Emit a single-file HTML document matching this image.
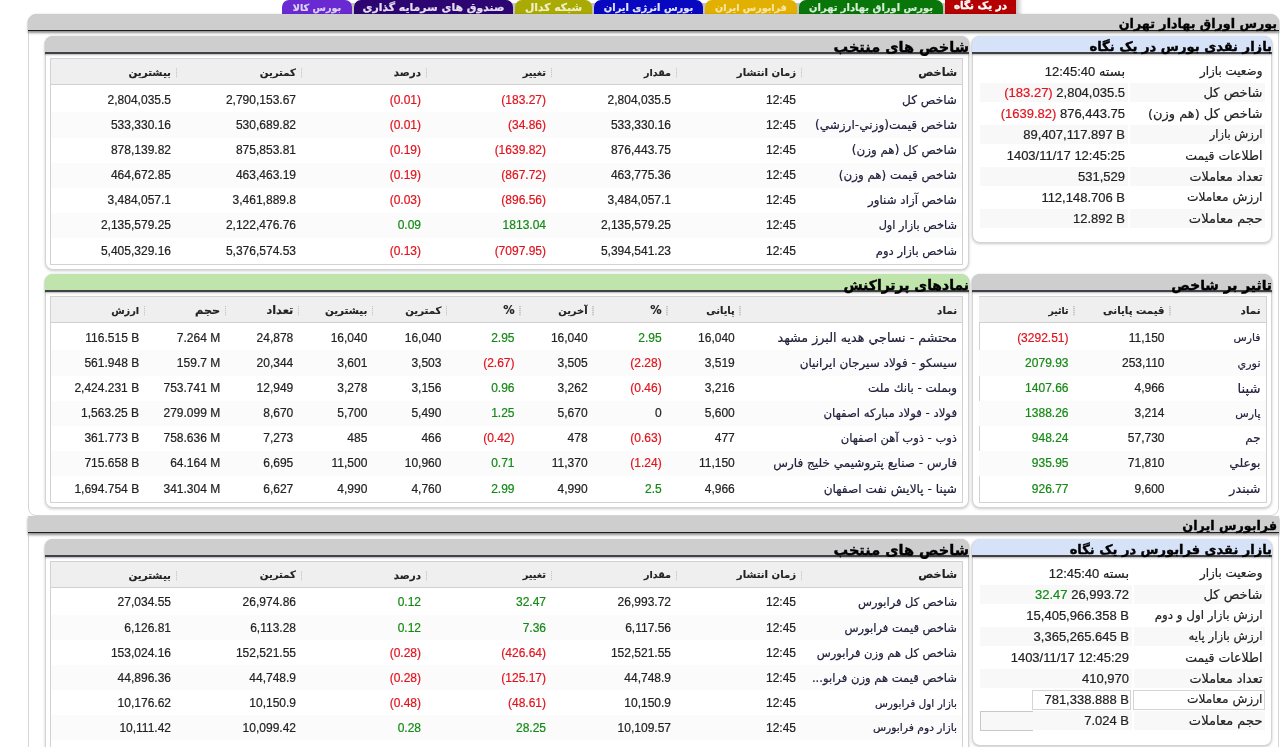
<!DOCTYPE html>
<html lang="fa" dir="rtl"><head><meta charset="utf-8"><title>در یک نگاه</title>
<style>
*{box-sizing:border-box;margin:0;padding:0}
html,body{width:1280px;height:747px;overflow:hidden;background:#fff}
body{position:relative;font-family:'Liberation Sans', 'DejaVu Sans', sans-serif;color:#222;direction:rtl}
.tab{position:absolute;top:0;height:14px;border-radius:7px 7px 0 0;color:#e4e4e4;font:bold 10.3px 'DejaVu Sans', sans-serif;-webkit-text-stroke:.2px currentColor;text-align:center;line-height:16px;white-space:nowrap;overflow:hidden}
.outer{position:absolute;left:28px;width:1251px;border:1px solid #d6d6d6;border-radius:8px;background:#fff}
.ohead{position:absolute;left:-1px;right:-1px;top:-1px;height:17px;background:#cecece;border-radius:9px 9px 0 0;border-bottom:1px solid #1c1c1c;box-shadow:0 1.5px 2.5px rgba(0,0,0,.45);font:bold 12.7px 'DejaVu Sans', sans-serif;-webkit-text-stroke:.35px #000;color:#000;text-align:right;padding-right:2px;line-height:19px;white-space:nowrap}
.panel{position:absolute;border:1px solid #d4d4d4;border-radius:8px;background:#fff;box-shadow:0 1px 3px rgba(0,0,0,.22)}
.phead{position:absolute;left:-1px;right:-1px;top:-1px;height:18px;background:#cecece;border-radius:8px 8px 0 0;border-bottom:2px solid #404046;box-shadow:0 1px 2px rgba(0,0,0,.3);font:bold 13.5px 'DejaVu Sans', sans-serif;-webkit-text-stroke:.4px #000;color:#000;text-align:right;padding-right:0;line-height:22px;white-space:nowrap;z-index:1}
.phead.g{background:#bfe5ac}
.phead.b{background:#d6e2f7}
.grid{position:absolute;border:1px solid #d2d2d2;background:#fff}
.grid table{border-collapse:collapse;table-layout:fixed;width:100%}
.grid table.bd{margin-top:2.3px}
.grid th{height:25.6px;background:#efefef;border-bottom:1px solid #d0d0d0;font:bold 10.3px 'DejaVu Sans', sans-serif;color:#222;-webkit-text-stroke:.15px #222;padding-top:1px;text-align:right;padding-right:5px;position:relative;white-space:nowrap}
.grid th .sep{position:absolute;right:-1px;top:9px;width:1.5px;height:10px;background:repeating-linear-gradient(#c8c8c8 0 1px,#e4e4e4 1px 2px)}
.grid td{height:25.1px;font:12px 'Liberation Sans', 'DejaVu Sans', sans-serif;color:#222;-webkit-text-stroke:.2px currentColor;text-align:right;padding-right:5px;white-space:nowrap;overflow:hidden}
.grid td.n{font:12px 'DejaVu Sans', sans-serif;color:#20203c}
.grid tr.alt td{background:#fbfbfb}
.r,.grid td.r{color:#e0141e} .gr,.grid td.gr{color:#148a14}
.grid td{direction:ltr} .grid td.n{direction:rtl}
.kv td{direction:ltr} .kv td.k{direction:rtl}
.kv{position:absolute;border-collapse:separate;border-spacing:2px;table-layout:fixed}
.kv td{height:19px;padding:0;font:13px 'Liberation Sans', 'DejaVu Sans', sans-serif;color:#222;-webkit-text-stroke:.2px currentColor;text-align:right;white-space:nowrap;padding-right:3px}
.kv td.k{font:13px 'DejaVu Sans', sans-serif;padding-right:2.5px}
.kv tr.alt td{background:#f8f8f8}
.gl{position:absolute;border:1px solid #cfcfcf}
</style></head><body>
<div style="position:absolute;left:284px;top:3px;width:730px;height:11px;background:#c2c2c2"></div><div style="position:absolute;left:1016px;top:0;width:7px;height:14px;background:linear-gradient(to right,#c4c4c4,#fff)"></div><div class="tab" style="left:282px;width:70px;background:#6a2ad2;color:#ddd4f4;font-size:9.7px">بورس کالا</div><div class="tab" style="left:354px;width:159px;background:#2d0573;color:#e4e0f0;font-size:10.85px">صندوق های سرمایه گذاری</div><div class="tab" style="left:515px;width:77px;background:#aaaa04;color:#f0f0c8;font-size:10.76px">شبکه کدال</div><div class="tab" style="left:594px;width:109px;background:#0808c0;color:#e4e4ff;font-size:9.91px">بورس انرژی ایران</div><div class="tab" style="left:705px;width:92px;background:#e2b000;color:#f6e6a8;font-size:9.65px">فرابورس ایران</div><div class="tab" style="left:799px;width:144px;background:#087608;color:#d8ecd8;font-size:9.94px">بورس اوراق بهادار تهران</div><div class="tab" style="left:945px;width:71px;background:#b40000;color:#fff;border-radius:0;line-height:10px;font-size:10.4px;-webkit-text-stroke:.35px #fff">در یک نگاه</div><div class="outer" style="top:14px;height:502px"><div class="ohead">بورس اوراق بهادار تهران</div></div><div class="panel" style="left:45px;top:36px;width:924px;height:234px"><div class="phead " style="font-size:14.5px">شاخص های منتخب</div></div><div class="grid" style="left:50px;top:58px;width:913px;height:206.5px"><table class="hd"><colgroup><col style="width:161px"><col style="width:125px"><col style="width:125px"><col style="width:125px"><col style="width:125px"><col style="width:125px"><col style="width:125px"></colgroup><tr><th style="font-size:11.27px">شاخص</th><th style="font-size:10.09px"><span class="sep"></span>زمان انتشار</th><th style="font-size:9.52px"><span class="sep"></span>مقدار</th><th style="font-size:9.8px"><span class="sep"></span>تغییر</th><th style="font-size:10.37px"><span class="sep"></span>درصد</th><th style="font-size:10.2px"><span class="sep"></span>کمترین</th><th style="font-size:10.35px"><span class="sep"></span>بیشترین</th></tr></table><table class="bd"><colgroup><col style="width:161px"><col style="width:125px"><col style="width:125px"><col style="width:125px"><col style="width:125px"><col style="width:125px"><col style="width:125px"></colgroup><tr class=""><td class="n" style="font-size:12.12px">شاخص کل</td><td class="">12:45</td><td class="">2,804,035.5</td><td class=" r">(183.27)</td><td class=" r">(0.01)</td><td class="">2,790,153.67</td><td class="">2,804,035.5</td></tr><tr class="alt"><td class="n" style="font-size:12.07px">شاخص قیمت(وزني-ارزشي)</td><td class="">12:45</td><td class="">533,330.16</td><td class=" r">(34.86)</td><td class=" r">(0.01)</td><td class="">530,689.82</td><td class="">533,330.16</td></tr><tr class=""><td class="n" style="font-size:11.9px">شاخص کل (هم وزن)</td><td class="">12:45</td><td class="">876,443.75</td><td class=" r">(1639.82)</td><td class=" r">(0.19)</td><td class="">875,853.81</td><td class="">878,139.82</td></tr><tr class="alt"><td class="n" style="font-size:11.88px">شاخص قیمت (هم وزن)</td><td class="">12:45</td><td class="">463,775.36</td><td class=" r">(867.72)</td><td class=" r">(0.19)</td><td class="">463,463.19</td><td class="">464,672.85</td></tr><tr class=""><td class="n" style="font-size:11.84px">شاخص آزاد شناور</td><td class="">12:45</td><td class="">3,484,057.1</td><td class=" r">(896.56)</td><td class=" r">(0.03)</td><td class="">3,461,889.8</td><td class="">3,484,057.1</td></tr><tr class="alt"><td class="n" style="font-size:11.3px">شاخص بازار اول</td><td class="">12:45</td><td class="">2,135,579.25</td><td class=" gr">1813.04</td><td class=" gr">0.09</td><td class="">2,122,476.76</td><td class="">2,135,579.25</td></tr><tr class=""><td class="n" style="font-size:11.61px">شاخص بازار دوم</td><td class="">12:45</td><td class="">5,394,541.23</td><td class=" r">(7097.95)</td><td class=" r">(0.13)</td><td class="">5,376,574.53</td><td class="">5,405,329.16</td></tr></table></div><div class="panel" style="left:972px;top:36px;width:300px;height:207px"><div class="phead b" style="font-size:13.1px">بازار نقدی بورس در یک نگاه</div></div><table class="kv" style="left:978px;top:59.5px;width:289px"><colgroup><col style="width:135px"><col></colgroup><tr class=""><td class="k" style="font-size:11.94px">وضعیت بازار</td><td style="padding-right:3px">12:45:40 بسته</td></tr><tr class="alt"><td class="k" style="font-size:13.0px">شاخص کل</td><td style="padding-right:3px"><span class="r">(183.27)</span> 2,804,035.5</td></tr><tr class=""><td class="k" style="font-size:12.94px">شاخص کل (هم وزن)</td><td style="padding-right:3px"><span class="r">(1639.82)</span> 876,443.75</td></tr><tr class="alt"><td class="k" style="font-size:11.46px">ارزش بازار</td><td style="padding-right:3px">89,407,117.897 B</td></tr><tr class=""><td class="k" style="font-size:12.53px">اطلاعات قیمت</td><td style="padding-right:3px">1403/11/17 12:45:25</td></tr><tr class="alt"><td class="k" style="font-size:12.75px">تعداد معاملات</td><td style="padding-right:3px">531,529</td></tr><tr class=""><td class="k" style="font-size:12.22px">ارزش معاملات</td><td style="padding-right:3px">112,148.706 B</td></tr><tr class="alt"><td class="k" style="font-size:13.06px">حجم معاملات</td><td style="padding-right:3px">12.892 B</td></tr></table><div class="panel" style="left:45px;top:274px;width:924px;height:234px"><div class="phead g" style="font-size:13.95px">نمادهای پرتراکنش</div></div><div class="grid" style="left:50px;top:296px;width:913px;height:206.5px"><table class="hd"><colgroup><col style="width:222px"><col style="width:73px"><col style="width:74px"><col style="width:73px"><col style="width:73px"><col style="width:74px"><col style="width:74px"><col style="width:73px"><col style="width:81px"><col style="width:93px"></colgroup><tr><th style="font-size:10.29px">نماد</th><th style="font-size:9.9px"><span class="sep"></span>پایانی</th><th style="font-size:11.38px"><span class="sep"></span>%</th><th style="font-size:9.93px"><span class="sep"></span>آخرین</th><th style="font-size:11.38px"><span class="sep"></span>%</th><th style="font-size:10.2px"><span class="sep"></span>کمترین</th><th style="font-size:10.35px"><span class="sep"></span>بیشترین</th><th style="font-size:11.33px"><span class="sep"></span>تعداد</th><th style="font-size:11.32px"><span class="sep"></span>حجم</th><th style="font-size:9.74px"><span class="sep"></span>ارزش</th></tr></table><table class="bd"><colgroup><col style="width:222px"><col style="width:73px"><col style="width:74px"><col style="width:73px"><col style="width:73px"><col style="width:74px"><col style="width:74px"><col style="width:73px"><col style="width:81px"><col style="width:93px"></colgroup><tr class=""><td class="n" style="font-size:12.72px">محتشم - نساجي هديه البرز مشهد</td><td class="">16,040</td><td class=" gr">2.95</td><td class="">16,040</td><td class=" gr">2.95</td><td class="">16,040</td><td class="">16,040</td><td class="">24,878</td><td class="">7.264 M</td><td class="">116.515 B</td></tr><tr class="alt"><td class="n" style="font-size:12.02px">سيسكو - فولاد سيرجان ايرانيان</td><td class="">3,519</td><td class=" r">(2.28)</td><td class="">3,505</td><td class=" r">(2.67)</td><td class="">3,503</td><td class="">3,601</td><td class="">20,344</td><td class="">159.7 M</td><td class="">561.948 B</td></tr><tr class=""><td class="n" style="font-size:11.84px">وبملت - بانك ملت</td><td class="">3,216</td><td class=" r">(0.46)</td><td class="">3,262</td><td class=" gr">0.96</td><td class="">3,156</td><td class="">3,278</td><td class="">12,949</td><td class="">753.741 M</td><td class="">2,424.231 B</td></tr><tr class="alt"><td class="n" style="font-size:11.69px">فولاد - فولاد مباركه اصفهان</td><td class="">5,600</td><td class=" ">0</td><td class="">5,670</td><td class=" gr">1.25</td><td class="">5,490</td><td class="">5,700</td><td class="">8,670</td><td class="">279.099 M</td><td class="">1,563.25 B</td></tr><tr class=""><td class="n" style="font-size:11.56px">ذوب - ذوب آهن اصفهان</td><td class="">477</td><td class=" r">(0.63)</td><td class="">478</td><td class=" r">(0.42)</td><td class="">466</td><td class="">485</td><td class="">7,273</td><td class="">758.636 M</td><td class="">361.773 B</td></tr><tr class="alt"><td class="n" style="font-size:12.06px">فارس - صنايع پتروشيمي خليج فارس</td><td class="">11,150</td><td class=" r">(1.24)</td><td class="">11,370</td><td class=" gr">0.71</td><td class="">10,960</td><td class="">11,500</td><td class="">6,695</td><td class="">64.164 M</td><td class="">715.658 B</td></tr><tr class=""><td class="n" style="font-size:12.15px">شپنا - پالايش نفت اصفهان</td><td class="">4,966</td><td class=" gr">2.5</td><td class="">4,990</td><td class=" gr">2.99</td><td class="">4,760</td><td class="">4,990</td><td class="">6,627</td><td class="">341.304 M</td><td class="">1,694.754 B</td></tr></table></div><div class="panel" style="left:972px;top:274px;width:300px;height:234px"><div class="phead " style="font-size:13.8px">تاثیر بر شاخص</div></div><div class="grid" style="left:978.5px;top:296px;width:288px;height:206.5px"><table class="hd"><colgroup><col style="width:96px"><col style="width:96px"><col style="width:95px"></colgroup><tr><th style="font-size:10.29px">نماد</th><th style="font-size:10.2px"><span class="sep"></span>قیمت پایانی</th><th style="font-size:9.27px"><span class="sep"></span>تاثیر</th></tr></table><table class="bd"><colgroup><col style="width:96px"><col style="width:96px"><col style="width:95px"></colgroup><tr class=""><td class="n" style="font-size:10.82px">فارس</td><td class="">11,150</td><td class=" r">(3292.51)</td></tr><tr class="alt"><td class="n" style="font-size:11.16px">نوري</td><td class="">253,110</td><td class=" gr">2079.93</td></tr><tr class=""><td class="n" style="font-size:13.17px">شپنا</td><td class="">4,966</td><td class=" gr">1407.66</td></tr><tr class="alt"><td class="n" style="font-size:11.06px">پارس</td><td class="">3,214</td><td class=" gr">1388.26</td></tr><tr class=""><td class="n" style="font-size:11.84px">جم</td><td class="">57,730</td><td class=" gr">948.24</td></tr><tr class="alt"><td class="n" style="font-size:12.21px">بوعلي</td><td class="">71,810</td><td class=" gr">935.95</td></tr><tr class=""><td class="n" style="font-size:12.74px">شبندر</td><td class="">9,600</td><td class=" gr">926.77</td></tr></table></div><div class="outer" style="border-radius:0;top:516px;height:260px"><div class="ohead" style="border-radius:0">فرابورس ایران</div></div><div class="panel" style="left:45px;top:538.5px;width:924px;height:240px"><div class="phead " style="font-size:14.5px">شاخص های منتخب</div></div><div class="grid" style="left:50px;top:560.5px;width:913px;height:240px"><table class="hd"><colgroup><col style="width:161px"><col style="width:125px"><col style="width:125px"><col style="width:125px"><col style="width:125px"><col style="width:125px"><col style="width:125px"></colgroup><tr><th style="font-size:11.27px">شاخص</th><th style="font-size:10.09px"><span class="sep"></span>زمان انتشار</th><th style="font-size:9.52px"><span class="sep"></span>مقدار</th><th style="font-size:9.8px"><span class="sep"></span>تغییر</th><th style="font-size:10.37px"><span class="sep"></span>درصد</th><th style="font-size:10.2px"><span class="sep"></span>کمترین</th><th style="font-size:10.35px"><span class="sep"></span>بیشترین</th></tr></table><table class="bd"><colgroup><col style="width:161px"><col style="width:125px"><col style="width:125px"><col style="width:125px"><col style="width:125px"><col style="width:125px"><col style="width:125px"></colgroup><tr class=""><td class="n" style="font-size:11.45px">شاخص کل فرابورس</td><td class="">12:45</td><td class="">26,993.72</td><td class=" gr">32.47</td><td class=" gr">0.12</td><td class="">26,974.86</td><td class="">27,034.55</td></tr><tr class="alt"><td class="n" style="font-size:11.53px">شاخص قیمت فرابورس</td><td class="">12:45</td><td class="">6,117.56</td><td class=" gr">7.36</td><td class=" gr">0.12</td><td class="">6,113.28</td><td class="">6,126.81</td></tr><tr class=""><td class="n" style="font-size:11.53px">شاخص کل هم وزن فرابورس</td><td class="">12:45</td><td class="">152,521.55</td><td class=" r">(426.64)</td><td class=" r">(0.28)</td><td class="">152,521.55</td><td class="">153,024.16</td></tr><tr class="alt"><td class="n" style="font-size:11.57px">شاخص قیمت هم وزن فرابو...</td><td class="">12:45</td><td class="">44,748.9</td><td class=" r">(125.17)</td><td class=" r">(0.28)</td><td class="">44,748.9</td><td class="">44,896.36</td></tr><tr class=""><td class="n" style="font-size:10.59px">بازار اول فرابورس</td><td class="">12:45</td><td class="">10,150.9</td><td class=" r">(48.61)</td><td class=" r">(0.48)</td><td class="">10,150.9</td><td class="">10,176.62</td></tr><tr class="alt"><td class="n" style="font-size:10.76px">بازار دوم فرابورس</td><td class="">12:45</td><td class="">10,109.57</td><td class=" gr">28.25</td><td class=" gr">0.28</td><td class="">10,099.42</td><td class="">10,111.42</td></tr></table></div><div class="panel" style="left:972px;top:538.5px;width:300px;height:207px"><div class="phead b" style="font-size:13.0px">بازار نقدی فرابورس در یک نگاه</div></div><table class="kv" style="left:978px;top:561.5px;width:289px"><colgroup><col style="width:131.5px"><col></colgroup><tr class=""><td class="k" style="font-size:11.94px">وضعیت بازار</td><td style="padding-right:2.5px">12:45:40 بسته</td></tr><tr class="alt"><td class="k" style="font-size:13.0px">شاخص کل</td><td style="padding-right:2.5px"><span class="gr">32.47</span> 26,993.72</td></tr><tr class=""><td class="k" style="font-size:11.89px">ارزش بازار اول و دوم</td><td style="padding-right:2.5px">15,405,966.358 B</td></tr><tr class="alt"><td class="k" style="font-size:11.73px">ارزش بازار پایه</td><td style="padding-right:2.5px">3,365,265.645 B</td></tr><tr class=""><td class="k" style="font-size:12.53px">اطلاعات قیمت</td><td style="padding-right:2.5px">1403/11/17 12:45:29</td></tr><tr class="alt"><td class="k" style="font-size:12.75px">تعداد معاملات</td><td style="padding-right:2.5px">410,970</td></tr><tr class=""><td class="k" style="font-size:12.22px">ارزش معاملات</td><td style="padding-right:2.5px">781,338.888 B</td></tr><tr class="alt"><td class="k" style="font-size:13.06px">حجم معاملات</td><td style="padding-right:2.5px">7.024 B</td></tr></table><div class="gl" style="left:1032px;top:689.5px;width:99px;height:20px;border-color:#d4d4d4"></div><div class="gl" style="left:1133px;top:689.5px;width:132px;height:20px;border-color:#d4d4d4"></div><div class="gl" style="left:980px;top:710.5px;width:53px;height:20px;border-right:0;border-color:#c8c8c8"></div>
</body></html>
